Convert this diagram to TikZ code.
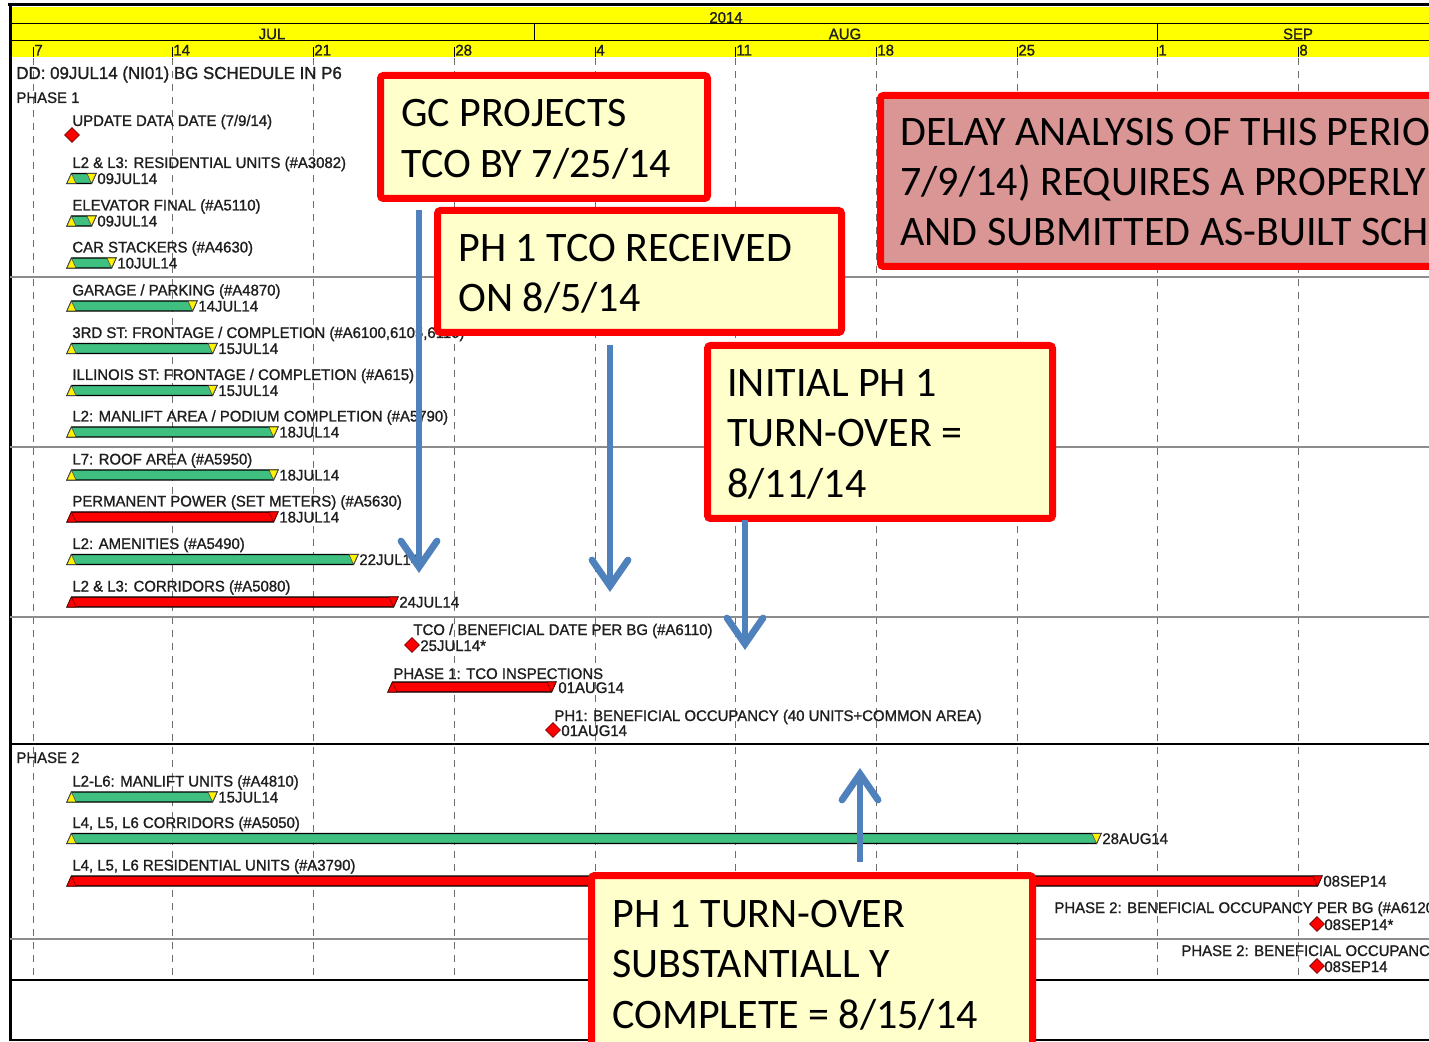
\documentclass[tikz,border=0pt]{standalone}
\usepackage{fontspec}
\setmainfont{Liberation Sans}
\newfontfamily\chartfont[FakeStretch=0.97,FakeBold=1.2]{Liberation Sans}
\newfontfamily\callfont{Carlito}
\usetikzlibrary{arrows.meta,shapes.geometric}
\definecolor{hdryellow}{RGB}{255,255,0}
\definecolor{barg}{RGB}{64,192,128}
\definecolor{calloutfill}{RGB}{255,255,204}
\definecolor{delayfill}{RGB}{217,150,148}
\definecolor{arrowblue}{RGB}{79,129,189}
\definecolor{gridgray}{RGB}{110,110,110}
\definecolor{sepgray}{RGB}{140,140,140}
\definecolor{darkred}{RGB}{120,0,0}
\definecolor{txtgray}{RGB}{30,30,30}
\tikzset{
 lbl/.style={anchor=base west, inner sep=0pt, text=txtgray, font=\chartfont\fontsize{7.7}{9}\selectfont},
 hdr/.style={inner sep=0pt, text=txtgray, font=\chartfont\fontsize{7.7}{9}\selectfont},
 callout/.style={draw=red, line width=3.5pt, fill=calloutfill, rounded corners=1.5pt, inner sep=0pt},
 delaybox/.style={callout, fill=delayfill},
 calltext/.style={anchor=base west, inner sep=0pt, font=\callfont\fontsize{21}{25}\selectfont},
 bluearrow/.style={draw=arrowblue, line width=3.4pt, -{Straight Barb[length=13pt,width=18pt,line cap=round]}},
 milestone/.style={diamond, draw=darkred, fill=red, line width=0.4pt, inner sep=0pt, minimum size=7.5pt},
 gridline/.style={draw=gridgray, line width=0.5pt, dash pattern=on 3.5pt off 3pt},
 sepline/.style={draw=sepgray, line width=0.7pt},
 blkline/.style={draw=black, line width=0.8pt},
 gbody/.style={fill=barg, draw=black, line width=0.6pt},
 rbody/.style={fill=red, draw=black, line width=0.6pt},
 gtri/.style={fill=yellow, draw=black!70, line width=0.3pt},
 rtri/.style={fill=red, draw=darkred, line width=0.3pt},
}
\newcommand\ganttbar[4]{%
 \filldraw[#4body] (#2,#1+5) -- (#2+4.5,#1-5) -- (#3,#1-5) -- (#3-4.5,#1+5) -- cycle;
 \filldraw[#4tri] (#2,#1+5) -- (#2+9,#1+5) -- (#2+4.5,#1-5) -- cycle;
 \filldraw[#4tri] (#3-9,#1-5) -- (#3,#1-5) -- (#3-4.5,#1+5) -- cycle;}
\newcommand\taskrow[6]{%
 \node[lbl] (#1l) at (72,#2-10.5) {#5};
 \ganttbar{#2}{67}{#3}{#4}
 \node[lbl] (#1d) at (#3+1,#2+5.5) {#6};}
\begin{document}
\begin{tikzpicture}[x=0.5pt,y=-0.5pt]
\useasboundingbox (0,0) rectangle (1429,1042);
\clip (0,0) rectangle (1429,1042);
% header
\fill[hdryellow] (10,7) rectangle (1429,57);
\draw[line width=0.5pt] (10,24) -- (1429,24);
\draw[line width=0.5pt] (10,41) -- (1429,41);
\draw[line width=0.5pt] (534,24) -- (534,41);
\draw[line width=0.5pt] (1157,24) -- (1157,41);
\draw[line width=1.5pt] (8,5) -- (1429,5);
\draw[line width=1.5pt] (10,4) -- (10,1041);
\draw[line width=1.2pt] (10,1040) -- (1429,1040);
\node[hdr] (yr) at (726,17.5) {2014};
\node[hdr] (mjul) at (272,34) {JUL};
\node[hdr] (maug) at (845,34) {AUG};
\node[hdr] (msep) at (1298,34) {SEP};
\foreach \x/\d in {33/7,172/14,313/21,454/28,595/4,735/11,876/18,1017/25,1157/1,1298/8}{
 \draw[line width=0.5pt] (\x,47) -- (\x,57);
 \node[lbl] (day\d) at (\x+1,55.5) {\d};
 \draw[gridline] (\x,58) -- (\x,980);
}
% separators
\draw[sepline] (10,277) -- (1429,277);
\draw[sepline] (10,447) -- (1429,447);
\draw[sepline] (10,617) -- (1429,617);
\draw[blkline] (10,744) -- (1429,744);
\draw[sepline] (10,939) -- (1429,939);
\draw[blkline] (10,980) -- (1429,980);
% phase 1
\node[lbl, font=\chartfont\fontsize{8.7}{10}\selectfont] (dd) at (16,79) {DD: 09JUL14 (NI01) BG SCHEDULE IN P6};
\node[lbl] (ph1) at (16,103) {PHASE 1};
\node[lbl] (upd) at (72,126) {UPDATE DATA DATE (7/9/14)};
\node[milestone] (updm) at (72,135) {};
\taskrow{r1}{178.5}{96}{g}{L2 \& L3: RESIDENTIAL UNITS (\#A3082)}{09JUL14}
\taskrow{r2}{221}{96}{g}{ELEVATOR FINAL (\#A5110)}{09JUL14}
\taskrow{r3}{263}{116}{g}{CAR STACKERS (\#A4630)}{10JUL14}
\taskrow{r4}{306}{197}{g}{GARAGE / PARKING (\#A4870)}{14JUL14}
\taskrow{r5}{348.5}{217}{g}{3RD ST: FRONTAGE / COMPLETION (\#A6100,6105,6110)}{15JUL14}
\taskrow{r6}{390.5}{217}{g}{ILLINOIS ST: FRONTAGE / COMPLETION (\#A615)}{15JUL14}
\taskrow{r7}{432}{278}{g}{L2: MANLIFT AREA / PODIUM COMPLETION (\#A5790)}{18JUL14}
\taskrow{r8}{475}{278}{g}{L7: ROOF AREA (\#A5950)}{18JUL14}
\taskrow{r9}{517}{278}{r}{PERMANENT POWER (SET METERS) (\#A5630)}{18JUL14}
\taskrow{r10}{559.5}{358}{g}{L2: AMENITIES (\#A5490)}{22JUL14}
\taskrow{r11}{602}{398}{r}{L2 \& L3: CORRIDORS (\#A5080)}{24JUL14}
\node[lbl] (r12l) at (413,635) {TCO / BENEFICIAL DATE PER BG (\#A6110)};
\node[milestone] (r12m) at (412,645) {};
\node[lbl] (r12d) at (420,651) {25JUL14*};
\node[lbl] (r13l) at (393,679) {PHASE 1: TCO INSPECTIONS};
\ganttbar{687}{388}{556}{r}
\node[lbl] (r13d) at (558,693) {01AUG14};
\node[lbl] (r14l) at (554,721) {PH1: BENEFICIAL OCCUPANCY (40 UNITS+COMMON AREA)};
\node[milestone] (r14m) at (553,730) {};
\node[lbl] (r14d) at (561,736) {01AUG14};
% phase 2
\node[lbl] (ph2) at (16,763) {PHASE 2};
\taskrow{r15}{797}{217}{g}{L2-L6: MANLIFT UNITS (\#A4810)}{15JUL14}
\taskrow{r16}{838.5}{1101}{g}{L4, L5, L6 CORRIDORS (\#A5050)}{28AUG14}
\taskrow{r17}{881}{1322}{r}{L4, L5, L6 RESIDENTIAL UNITS (\#A3790)}{08SEP14}
\node[lbl] (r18l) at (1054,913) {PHASE 2: BENEFICIAL OCCUPANCY PER BG (\#A6120)};
\node[milestone] (r18m) at (1317,924) {};
\node[lbl] (r18d) at (1324,930) {08SEP14*};
\node[lbl] (r19l) at (1181,956) {PHASE 2: BENEFICIAL OCCUPANCY};
\node[milestone] (r19m) at (1317,966) {};
\node[lbl] (r19d) at (1324,972) {08SEP14};
% callouts
\node[callout, minimum width=163.5pt, minimum height=61.5pt] (b1) at (544,137) {};
\node[calltext] (b1a) at (401,127) {GC PROJECTS};
\node[calltext] (b1b) at (401,178) {TCO BY 7/25/14};
\node[callout, minimum width=202pt, minimum height=61pt] (b2) at (639.5,271.5) {};
\node[calltext] (b2a) at (458,262) {PH 1 TCO RECEIVED};
\node[calltext] (b2b) at (458,312) {ON 8/5/14};
\node[callout, minimum width=172.5pt, minimum height=86.5pt] (b3) at (880,432) {};
\node[calltext] (b3a) at (727,397) {INITIAL PH 1};
\node[calltext] (b3b) at (727,447) {TURN-OVER =};
\node[calltext] (b3c) at (727,498) {8/11/14};
\node[callout, minimum width=220.5pt, minimum height=102.25pt] (b4) at (812,977.75) {};
\node[calltext] (b4a) at (612,927) {PH 1 TURN-OVER};
\node[calltext] (b4b) at (612,977) {SUBSTANTIALL Y};
\node[calltext] (b4c) at (612,1028) {COMPLETE = 8/15/14};
\node[delaybox, minimum width=309.75pt, minimum height=85.5pt] (b5) at (1190.25,181) {};
\node[calltext] (b5a) at (900,146) {DELAY ANALYSIS OF THIS PERIOD};
\node[calltext] (b5b) at (900,196) {7/9/14) REQUIRES A PROPERLY};
\node[calltext] (b5c) at (900,246) {AND SUBMITTED AS-BUILT SCHEDULE};
% arrows
\coordinate (a1s) at (419,210); \coordinate (a1e) at (419,573);
\coordinate (a2s) at (610,345); \coordinate (a2e) at (610,592);
\coordinate (a3s) at (745,520); \coordinate (a3e) at (745,650);
\coordinate (a4s) at (860,862); \coordinate (a4e) at (860,768);
\draw[bluearrow] (a1s) -- (a1e);
\draw[bluearrow] (a2s) -- (a2e);
\draw[bluearrow] (a3s) -- (a3e);
\draw[bluearrow] (a4s) -- (a4e);
\end{tikzpicture}
\end{document}
